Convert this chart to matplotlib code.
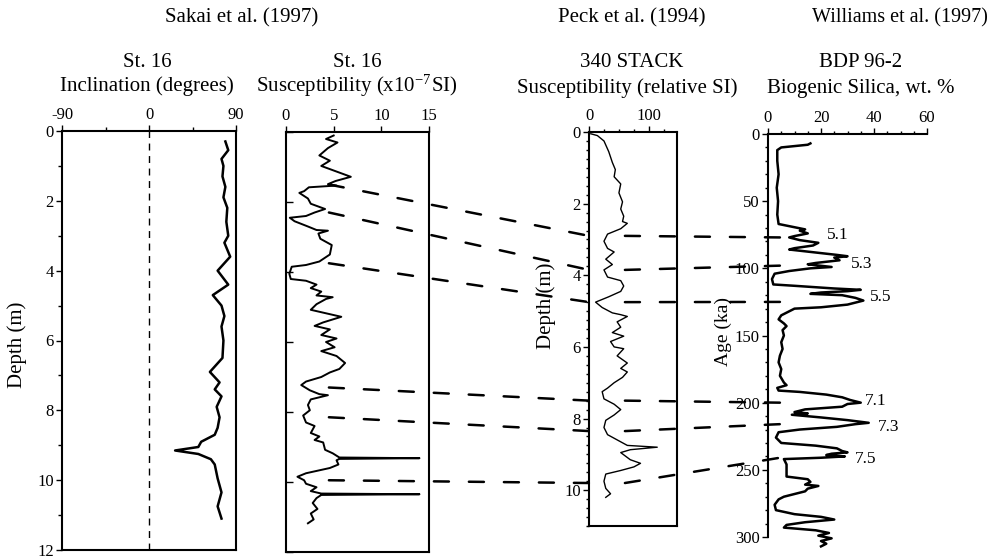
import matplotlib
matplotlib.use('Agg')
import matplotlib.pyplot as plt
from matplotlib.patches import ConnectionPatch
from matplotlib.ticker import MultipleLocator
import numpy as np

plt.rcParams['font.family'] = ['Liberation Serif', 'DejaVu Serif']
plt.rcParams['mathtext.fontset'] = 'stix'
plt.rcParams['axes.unicode_minus'] = False

# --- Sakai et al. (1997), St. 16 inclination
incl_depth = [0.3, 0.55, 0.8, 1.0, 1.3, 1.6, 1.9, 2.2, 2.6, 3.0, 3.2, 3.6, 4.0, 4.4, 4.7, 5.0,
              5.3, 5.6, 6.0, 6.5, 6.9, 7.2, 7.4, 7.6, 7.9, 8.2, 8.5, 8.7, 8.9, 9.05,
              9.15, 9.25, 9.4, 9.55, 9.95, 10.35, 10.75, 11.1]
incl_deg = [79, 82, 75, 77, 76, 79, 77, 81, 80, 82, 78, 84, 71, 82, 66, 75,
            78, 75, 77, 76, 63, 73, 68, 75, 70, 73, 71, 68, 54, 51,
            27, 51, 64, 68, 71, 75, 71, 75]

# --- Sakai et al. (1997), St. 16 susceptibility
sus_depth = [0.1, 0.2, 0.3, 0.46, 0.67, 0.82, 0.97, 1.1, 1.28, 1.4, 1.49, 1.53, 1.58, 1.69, 1.74, 1.9,
             2.05, 2.2, 2.3, 2.4, 2.45, 2.55, 2.7, 2.8, 2.82, 2.9, 3.05, 3.23, 3.5, 3.7,
             3.8, 3.85, 4.05, 4.2, 4.25, 4.36, 4.46, 4.56, 4.67, 4.72, 4.77, 4.92, 5.08,
             5.18, 5.28, 5.44, 5.54, 5.64, 5.8, 5.9, 6.0, 6.15, 6.26, 6.4, 6.6, 6.77,
             6.87, 7.0, 7.13, 7.23, 7.38, 7.49, 7.52, 7.64, 7.8, 7.95, 8.1, 8.3, 8.4,
             8.6, 8.7, 8.8, 8.87, 9.08, 9.18, 9.3, 9.32, 9.34, 9.38, 9.5, 9.6, 9.75,
             9.85, 9.95, 10.05, 10.15, 10.26, 10.33, 10.35, 10.37, 10.46, 10.6, 10.77,
             10.9, 11.07, 11.18]
sus_val = [5.0, 4.2, 5.4, 4.4, 3.5, 4.6, 3.7, 5.0, 6.8, 5.2, 4.4, 5.3, 2.4, 1.9, 1.4, 2.3,
           2.6, 4.1, 3.0, 2.1, 0.4, 0.9, 2.3, 3.2, 4.4, 3.4, 3.6, 4.8, 4.6, 3.5,
           2.1, 0.6, 0.35, 0.5, 2.1, 3.2, 2.6, 3.7, 3.2, 4.9, 4.2, 3.2, 2.6,
           4.2, 5.8, 3.9, 3.0, 4.6, 3.7, 5.3, 4.2, 5.1, 3.7, 5.3, 6.2, 5.6,
           4.6, 3.7, 2.1, 1.6, 2.5, 3.5, 4.4, 2.6, 2.3, 2.5, 1.8, 2.1, 3.0,
           2.6, 3.5, 3.0, 3.9, 4.1, 4.9, 5.6, 14.0, 5.6, 5.3, 5.5, 4.6, 2.1,
           1.2, 1.9, 2.1, 3.2, 2.6, 3.7, 14.0, 3.7, 3.2, 2.8, 3.3,
           2.6, 2.9, 2.3]

# --- Peck et al. (1994), 340 STACK susceptibility
stack_depth = [0.05, 0.1, 0.25, 0.55, 0.85, 1.05, 1.25, 1.45, 1.7, 1.95, 2.15, 2.35, 2.5,
               2.55, 2.7, 2.85, 3.05, 3.25, 3.35, 3.55, 3.7, 3.85, 4.05, 4.15, 4.3, 4.45,
               4.6, 4.75, 4.9, 5.05, 5.1, 5.15, 5.3, 5.45, 5.6, 5.7, 5.85, 6.0, 6.05,
               6.25, 6.45, 6.6, 6.7, 6.85, 7.0, 7.15, 7.25, 7.45, 7.6, 7.75, 7.9, 8.05,
               8.25, 8.45, 8.55, 8.65, 8.75, 8.8, 8.87, 8.95, 9.15, 9.25, 9.35, 9.45,
               9.55, 9.75, 9.95, 10.1, 10.2]
stack_val = [3, 14, 25, 33, 39, 44, 42, 53, 50, 56, 53, 58, 56,
             64, 53, 31, 25, 31, 42, 28, 39, 25, 31, 53, 58, 53,
             33, 11, 22, 39, 53, 64, 47, 53, 39, 58, 36, 42, 58,
             47, 64, 53, 64, 56, 42, 31, 22, 25, 42, 53, 42, 28,
             25, 31, 42, 53, 64, 114, 69, 53, 69, 86, 75, 53,
             28, 25, 28, 36, 28]

# --- Williams et al. (1997), BDP 96-2 biogenic silica
bsi_age = [7, 8, 10, 12, 20, 30, 40, 50, 60, 67, 69, 71, 72, 74, 76, 77, 79, 81, 83, 85,
           86, 88, 90, 91, 92, 94, 96, 97, 99, 100, 102, 104, 108, 112, 113, 115, 116,
           117, 118, 119, 120, 122, 124, 125, 127, 129, 130, 132, 135, 138, 141, 143,
           146, 150, 155, 160, 165, 170, 175, 180, 185, 187, 189, 191, 192, 194, 196,
           198, 200, 201, 203, 205, 207, 208, 209, 211, 213, 215, 216, 218, 220, 222,
           226, 230, 232, 234, 236, 237, 238, 239, 240, 241, 242, 246, 252, 255, 257,
           259, 261, 262, 264, 266, 268, 270, 272, 276, 280, 283, 285, 287, 289, 291,
           293, 295, 297, 299, 301, 303, 305, 307]
bsi_val = [16, 15, 5, 3.5, 3.5, 4, 3.3, 3.8, 3.5, 4, 9, 14, 12, 15, 10, 8, 12, 19, 17, 10,
           8, 17, 26, 30, 25, 27, 18, 15, 24, 16, 8, 2.5, 1.5, 2, 10, 25, 35,
           30, 20, 16, 28, 33, 36, 34, 30, 20, 10, 8, 5, 4, 6, 7,
           5.5, 6, 5, 5.5, 4.5, 4, 5, 4.5, 6, 7, 3.5, 4, 12, 22, 28,
           31, 35, 30, 28, 14, 10, 15, 9, 20, 30, 38, 33, 26, 12, 4,
           3, 5, 18, 26, 28, 30, 24, 22, 29, 20, 6, 7, 7, 7, 15,
           16, 14, 19, 15, 14, 10, 6, 4, 2.5, 3, 10, 20, 25, 14, 7,
           6, 18, 23, 19, 24, 20, 22, 20]

# correlation tie points
tie_sakai_depth = [1.5, 2.3, 3.75, 7.3, 8.15, 9.95]
tie_peck_depth = [2.9, 3.85, 4.75, 7.5, 8.35, 9.8]
tie_age = [77, 98, 125, 200, 216, 241]

stage_labels = ['5.1', '5.3', '5.5', '7.1', '7.3', '7.5']
stage_age = [75, 97, 121, 199, 218, 242]
stage_val = [26.5, 35.5, 42.5, 40.5, 45.5, 37]

W, H = 989, 559


def px_axes(fig, x0, y0, x1, y1):
    return fig.add_axes([x0 / W, 1 - y1 / H, (x1 - x0) / W, (y1 - y0) / H])


def ftext(fig, x, y, s, **kw):
    fig.text(x / W, 1 - y / H, s, ha='center', va='center', **kw)


fig = plt.figure(figsize=(W / 100, H / 100), dpi=100)

tick_kw = dict(labelsize=12, width=1.0, length=4, pad=2)

# panel 1: inclination
ax1 = px_axes(fig, 62, 131, 236, 550)
ax1.plot(incl_deg, incl_depth, color='k', lw=1.8)
ax1.axvline(0, color='k', lw=1.0, ls=(0, (5, 4)))
ax1.set_xlim(-90, 90)
ax1.set_ylim(12, 0)
ax1.xaxis.tick_top()
ax1.set_xticks([-90, 0, 90])
ax1.xaxis.set_minor_locator(MultipleLocator(45))
ax1.yaxis.set_major_locator(MultipleLocator(2))
ax1.yaxis.set_minor_locator(MultipleLocator(1))
ax1.tick_params(which='both', direction='out', **tick_kw)
ax1.tick_params(which='minor', length=3)
ax1.set_ylabel('Depth (m)', fontsize=15)
ax1.yaxis.set_label_coords(-0.2, 0.49)

# panel 2: susceptibility St. 16
ax2 = px_axes(fig, 286, 132, 429, 552)
ax2.plot(sus_val, sus_depth, color='k', lw=1.4)
ax2.set_xlim(0, 15)
ax2.set_ylim(12, 0)
ax2.xaxis.tick_top()
ax2.set_xticks([0, 5, 10, 15])
ax2.yaxis.set_major_locator(MultipleLocator(2))
ax2.tick_params(axis='x', direction='out', **tick_kw)
ax2.tick_params(axis='y', direction='in', labelleft=False, length=5, width=1.0)

# panel 3: 340 STACK
ax3 = px_axes(fig, 589, 132, 677, 526)
ax3.plot(stack_val, stack_depth, color='k', lw=1.0)
ax3.set_xlim(0, 147)
ax3.set_ylim(11, 0)
ax3.xaxis.tick_top()
ax3.set_xticks([0, 100])
ax3.xaxis.set_minor_locator(MultipleLocator(25))
ax3.yaxis.set_major_locator(MultipleLocator(2))
ax3.yaxis.set_minor_locator(MultipleLocator(0.25))
ax3.tick_params(which='both', direction='out', **tick_kw)
ax3.tick_params(which='minor', length=2.5)
ax3.set_ylabel('Depth (m)', fontsize=15)
ax3.yaxis.set_label_coords(-0.375, 0.56)

# panel 4: BDP 96-2
ax4 = px_axes(fig, 768, 134, 927, 537)
ax4.plot(bsi_val, bsi_age, color='k', lw=1.8, clip_on=False)
ax4.set_xlim(0, 60)
ax4.set_ylim(300, 0)
ax4.spines['right'].set_visible(False)
ax4.spines['bottom'].set_visible(False)
ax4.xaxis.tick_top()
ax4.set_xticks([0, 20, 40, 60])
ax4.xaxis.set_minor_locator(MultipleLocator(5))
ax4.yaxis.set_major_locator(MultipleLocator(50))
ax4.yaxis.set_minor_locator(MultipleLocator(10))
ax4.tick_params(which='both', direction='out', **tick_kw)
ax4.tick_params(which='minor', length=2.5)
ax4.set_ylabel('Age (ka)', fontsize=14)
ax4.yaxis.set_label_coords(-0.225, 0.51)
for s, a, v in zip(stage_labels, stage_age, stage_val):
    ax4.text(v, a, s, fontsize=12.5, ha='center', va='center')

for ax in (ax1, ax2, ax3, ax4):
    for sp in ax.spines.values():
        sp.set_linewidth(1.5)

# correlation lines
dash = (0, (6, 8))
for ds, dp, age in zip(tie_sakai_depth, tie_peck_depth, tie_age):
    c1 = ConnectionPatch(xyA=(4.5, ds), coordsA=ax2.transData,
                         xyB=(0, dp), coordsB=ax3.transData,
                         color='k', lw=1.8, linestyle=dash)
    fig.add_artist(c1)
    c2 = ConnectionPatch(xyA=(60, dp), coordsA=ax3.transData,
                         xyB=(4.5, age), coordsB=ax4.transData,
                         color='k', lw=1.8, linestyle=dash)
    fig.add_artist(c2)

# headers
ftext(fig, 242, 18, 'Sakai et al. (1997)', fontsize=15)
ftext(fig, 632, 18, 'Peck et al. (1994)', fontsize=15)
ftext(fig, 900, 18, 'Williams et al. (1997)', fontsize=14.5)
ftext(fig, 147, 62, 'St. 16', fontsize=15)
ftext(fig, 147, 86, 'Inclination (degrees)', fontsize=15)
ftext(fig, 357, 62, 'St. 16', fontsize=15)
ftext(fig, 357, 86, r'Susceptibility (x10$^{\mathregular{-7}}$SI)', fontsize=15)
ftext(fig, 632, 62, '340 STACK', fontsize=15)
ftext(fig, 627, 88, 'Susceptibility (relative SI)', fontsize=15)
ftext(fig, 861, 62, 'BDP 96-2', fontsize=15)
ftext(fig, 861, 88, 'Biogenic Silica, wt. %', fontsize=15)

fig.savefig('out.png', dpi=100)
